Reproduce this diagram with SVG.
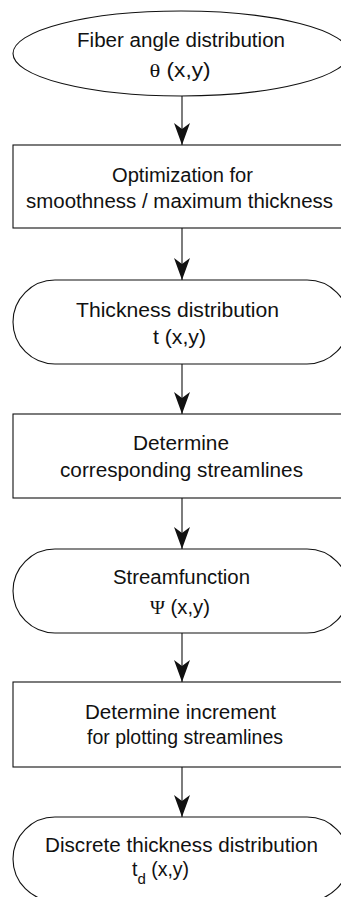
<svg xmlns="http://www.w3.org/2000/svg" width="341" height="897" viewBox="0 0 341 897">
<style>
.shape{fill:#fff;stroke:#111;stroke-width:1.1}
.lbl{font-family:"Liberation Sans",Arial,sans-serif;font-size:19.5px;fill:#111;text-anchor:middle}
.sym{font-family:"Liberation Serif","Times New Roman",serif}
.conn{stroke:#111;stroke-width:1.1;fill:none}
</style>
<defs>
<marker id="ah" viewBox="0 0 22 16" refX="22" refY="8" markerWidth="22" markerHeight="16" markerUnits="userSpaceOnUse" orient="auto">
<path d="M0,0 L22,8 L0,16 L6,8 Z" fill="#111"/>
</marker>
</defs>
<rect width="341" height="897" fill="#fff"/>
<g id="n1">
<ellipse class="shape" cx="181" cy="53.5" rx="168" ry="42.5"/>
<text class="lbl" x="181" y="47" textLength="208" lengthAdjust="spacingAndGlyphs">Fiber angle distribution</text>
<text class="lbl" x="180" y="77" textLength="61" lengthAdjust="spacingAndGlyphs"><tspan class="sym">θ</tspan> (x,y)</text>
</g>
<g id="n2">
<rect class="shape" x="13" y="145" width="336" height="83"/>
<text class="lbl" x="182.5" y="182" textLength="141" lengthAdjust="spacingAndGlyphs">Optimization for</text>
<text class="lbl" x="179.5" y="208" textLength="307" lengthAdjust="spacingAndGlyphs">smoothness / maximum thickness</text>
</g>
<g id="n3">
<rect class="shape" x="13" y="280" width="336" height="84" rx="42" ry="42"/>
<text class="lbl" x="177.5" y="317" textLength="203" lengthAdjust="spacingAndGlyphs">Thickness distribution</text>
<text class="lbl" x="179.5" y="344" textLength="53" lengthAdjust="spacingAndGlyphs">t (x,y)</text>
</g>
<g id="n4">
<rect class="shape" x="13" y="414" width="336" height="84"/>
<text class="lbl" x="181" y="450" textLength="96" lengthAdjust="spacingAndGlyphs">Determine</text>
<text class="lbl" x="181.5" y="477" textLength="243" lengthAdjust="spacingAndGlyphs">corresponding streamlines</text>
</g>
<g id="n5">
<rect class="shape" x="13" y="549" width="336" height="84" rx="42" ry="42"/>
<text class="lbl" x="181.5" y="584" textLength="137" lengthAdjust="spacingAndGlyphs">Streamfunction</text>
<text class="lbl" x="180" y="614" textLength="60" lengthAdjust="spacingAndGlyphs"><tspan class="sym">Ψ</tspan> (x,y)</text>
</g>
<g id="n6">
<rect class="shape" x="13" y="682" width="336" height="85"/>
<text class="lbl" x="180.5" y="719" textLength="191" lengthAdjust="spacingAndGlyphs">Determine increment</text>
<text class="lbl" x="185" y="744" textLength="196" lengthAdjust="spacingAndGlyphs">for plotting streamlines</text>
</g>
<g id="n7">
<rect class="shape" x="13" y="817" width="336" height="84" rx="42" ry="42"/>
<text class="lbl" x="181.5" y="852" textLength="273" lengthAdjust="spacingAndGlyphs">Discrete thickness distribution</text>
<text class="lbl" x="132" y="876" style="text-anchor:start"><tspan>t</tspan><tspan font-size="15" dy="8">d</tspan><tspan dy="-8"> (x,y)</tspan></text>
</g>
<g id="connectors">
<line class="conn" x1="182" y1="96" x2="182" y2="145" marker-end="url(#ah)"/>
<line class="conn" x1="182" y1="228" x2="182" y2="280" marker-end="url(#ah)"/>
<line class="conn" x1="182" y1="364" x2="182" y2="414" marker-end="url(#ah)"/>
<line class="conn" x1="182" y1="498" x2="182" y2="549" marker-end="url(#ah)"/>
<line class="conn" x1="182" y1="633" x2="182" y2="682" marker-end="url(#ah)"/>
<line class="conn" x1="182" y1="767" x2="182" y2="817" marker-end="url(#ah)"/>
</g>
</svg>
